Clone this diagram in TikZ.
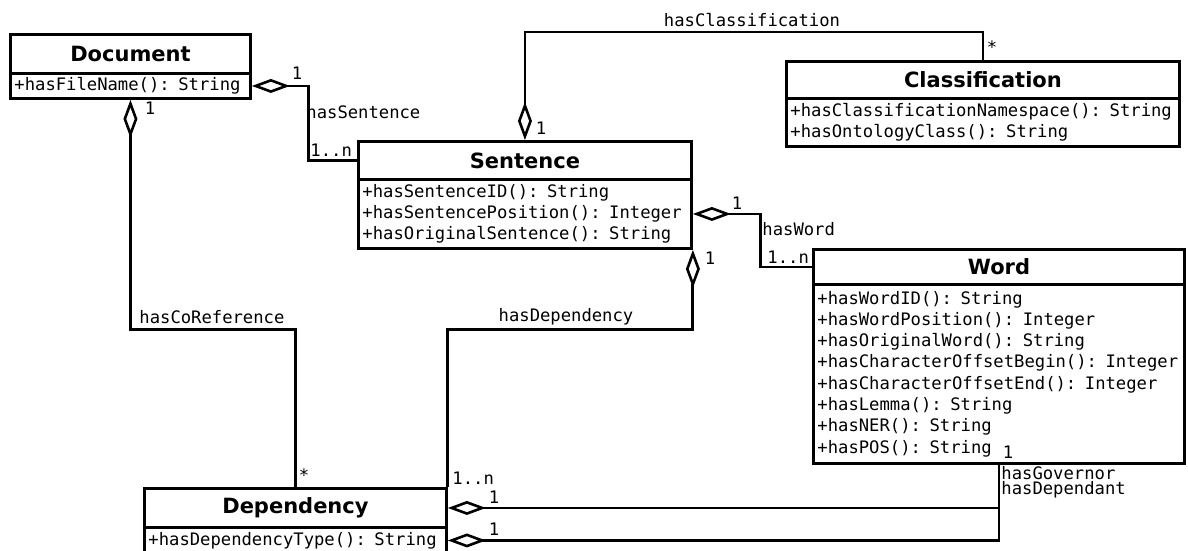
\documentclass[tikz,border=0pt]{standalone}
\usepackage{fontspec}
\setmainfont{DejaVu Sans}
\setmonofont{DejaVu Sans Mono}
\usetikzlibrary{arrows.meta,calc}
\begin{document}
\begin{tikzpicture}[x=1pt,y=-1pt,line width=2.9pt,
  ctitle/.style={draw, anchor=north west, inner sep=0pt,
    font=\fontsize{21}{24}\selectfont\bfseries},
  cattr/.style={draw, anchor=north west, inner xsep=4pt, inner ysep=0pt,
    align=left, font=\ttfamily\fontsize{17.2}{21.3}\selectfont},
  lbl/.style={inner sep=0pt, font=\ttfamily\fontsize{17.2}{17}\selectfont},
  agg/.style={{Diamond[fill=white,length=38pt,width=14pt,line width=2.6pt]}-}
]
\useasboundingbox[fill=white] (0,0) rectangle (1188,550);

% ---- classes ----
\node[ctitle, minimum width=240, minimum height=39] (docT) at (9,33) {Document};
\node[cattr, minimum width=240, minimum height=25, text width=232] (docA) at (9,72)
  {+hasFileName(): String};

\node[ctitle, minimum width=393, minimum height=37] (clsT) at (785,60) {Classification};
\node[cattr, minimum width=393, minimum height=48, text width=385] (clsA) at (785,97)
  {+hasClassificationNamespace(): String\\+hasOntologyClass(): String};

\node[ctitle, minimum width=333, minimum height=38] (sentT) at (357,140) {Sentence};
\node[cattr, minimum width=333, minimum height=69, text width=325] (sentA) at (357,178)
  {+hasSentenceID(): String\\+hasSentencePosition(): Integer\\+hasOriginalSentence(): String};

\node[ctitle, minimum width=371, minimum height=35] (wordT) at (812,248) {Word};
\node[cattr, minimum width=371, minimum height=179, text width=363] (wordA) at (812,283)
  {+hasWordID(): String\\+hasWordPosition(): Integer\\+hasOriginalWord(): String\\
   +hasCharacterOffsetBegin(): Integer\\+hasCharacterOffsetEnd(): Integer\\
   +hasLemma(): String\\+hasNER(): String\\+hasPOS(): String};

\node[ctitle, minimum width=302, minimum height=39] (depT) at (143,487) {Dependency};
\node[cattr, minimum width=302, minimum height=26, text width=294] (depA) at (143,526)
  {+hasDependencyType(): String};

\coordinate (wg) at ($(wordA.south west)+(187,0)$);

% ---- associations ----
\draw[agg] (docA.east) -- ++(57,0) |- (sentT.west);
\draw[agg] (sentT.north) -- ++(0,-108) -| (clsT.north);
\draw[agg] (sentA.east) -- ++(68,0) |- (wordT.west);
\draw[agg] (docA.south) -- ++(0,230) -| (depT.north);
\draw[agg] (sentA.south east) -- ++(0,80) -| (depT.north east);
\draw[agg] (depT.east) -| (wg);
\draw[agg] (depA.east) -| (wg);

% ---- labels and multiplicities ----
\node[lbl] (l1) at (297,73) {1};
\node[lbl, anchor=west] (l2) at (305,112) {hasSentence};
\node[lbl, anchor=west] (l3) at (309,150) {1..n};
\node[lbl] (l4) at (752,20) {hasClassification};
\node[lbl] (l5) at (541,128) {1};
\node[lbl] (l6) at (992,47) {*};
\node[lbl] (l7) at (737,203) {1};
\node[lbl, anchor=west] (l8) at (761,229) {hasWord};
\node[lbl, anchor=west] (l9) at (766,257) {1..n};
\node[lbl] (l10) at (150,108) {1};
\node[lbl, anchor=west] (l11) at (138,317) {hasCoReference};
\node[lbl] (l12) at (304,475) {*};
\node[lbl] (l13) at (566,317) {hasDependency};
\node[lbl] (l14) at (710,258) {1};
\node[lbl, anchor=west] (l15) at (451,478) {1..n};
\node[lbl] (l16) at (494,497) {1};
\node[lbl] (l17) at (494,529) {1};
\node[lbl] (l18) at (1008,452) {1};
\node[lbl, anchor=west] (l19) at (1000,473) {hasGovernor};
\node[lbl, anchor=west] (l20) at (1000,490) {hasDependant};
\end{tikzpicture}
\end{document}
